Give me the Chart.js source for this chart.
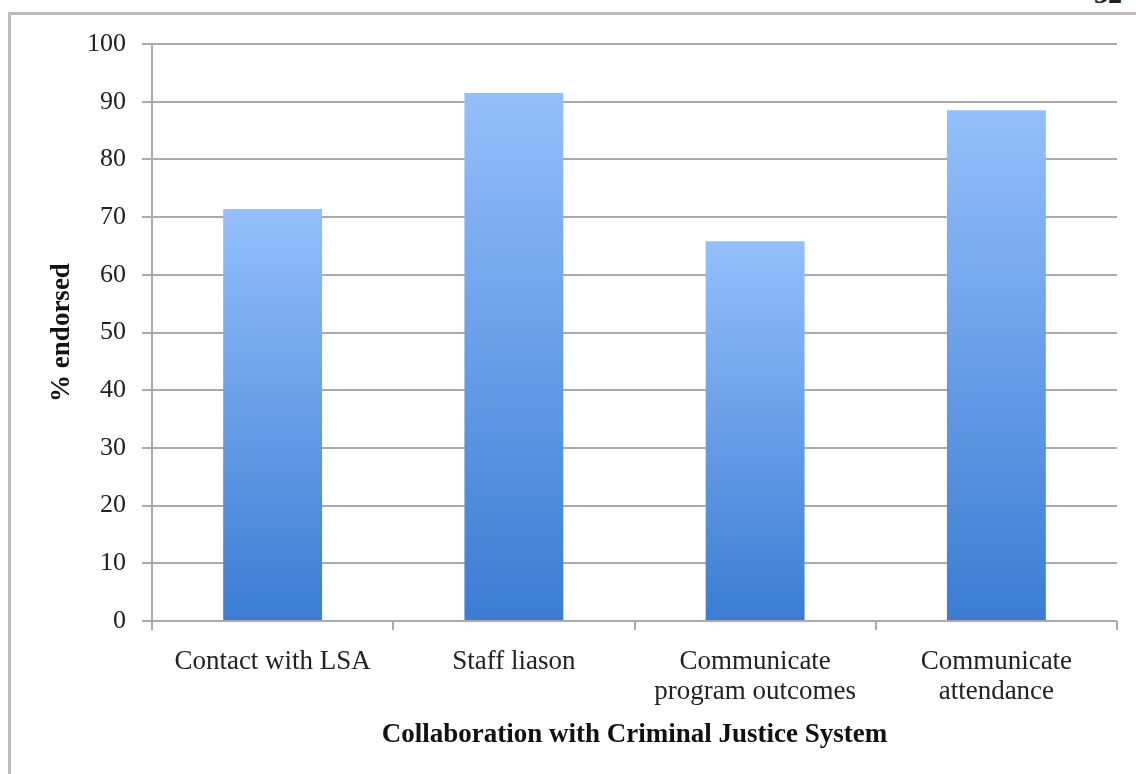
<!DOCTYPE html>
<html lang="en">
<head>
    <meta charset="UTF-8">
    <title>Collaboration with Criminal Justice System</title>
    <script src="https://cdn.jsdelivr.net/npm/chart.js"></script>
    <style>
        html, body {
            margin: 0;
            padding: 0;
            background: #ffffff;
            overflow: hidden;
        }
        .page {
            position: relative;
            width: 1136px;
            height: 774px;
        }
        /* page frame around the figure */
        .frame {
            position: absolute;
            left: 8px;
            top: 12px;
            width: 1140px;
            height: 780px;
            border-top: 3px solid #bdbdbd;
            border-left: 3px solid #bdbdbd;
        }
        .page-num {
            position: absolute;
            left: 1094px;
            top: -22px;
            font: bold 28px "Liberation Serif", serif;
            color: #222;
        }
        #graphique {
            position: absolute;
            left: 0;
            top: 0;
        }
    </style>
</head>
<body>
    <div class="page">
        <div class="frame"></div>
        <div class="page-num">32</div>
        <canvas id="graphique" width="1136" height="774"></canvas>
    </div>

    <script>
        // Données du graphique
        const categories = [
            'Contact with LSA',
            'Staff liason',
            ['Communicate', 'program outcomes'],
            ['Communicate', 'attendance']
        ];
        const pctEndorsed = [71.4, 91.5, 65.8, 88.5];
        const yTicks = [0, 10, 20, 30, 40, 50, 60, 70, 80, 90, 100];

        const gridColor = '#aaaaaa';

        // Dégradé vertical propre à chaque barre (clair en haut, foncé en bas)
        function barGradient(ctx) {
            const chart = ctx.chart;
            if (!chart.chartArea || ctx.type !== 'data') return '#6a9fe6';
            const y = chart.scales.y;
            const top = y.getPixelForValue(ctx.raw);
            const base = y.getPixelForValue(0);
            const g = chart.ctx.createLinearGradient(0, top, 0, base);
            g.addColorStop(0, '#94bffb');
            g.addColorStop(1, '#3b7cd2');
            return g;
        }

        const ctx = document.getElementById('graphique').getContext('2d');
        const myChart = new Chart(ctx, {
            type: 'bar',
            data: {
                labels: categories,
                datasets: [{
                    label: '% endorsed',
                    data: pctEndorsed,
                    backgroundColor: barGradient,
                    borderWidth: 0,
                    barPercentage: 0.41,
                    categoryPercentage: 1
                }]
            },
            options: {
                responsive: false,
                animation: false,
                layout: {
                    padding: { left: 46, top: 44, right: 19, bottom: 23 }
                },
                plugins: {
                    legend: { display: false },
                    tooltip: { enabled: false }
                },
                scales: {
                    x: {
                        offset: true,
                        grid: {
                            offset: true,
                            drawOnChartArea: false,
                            drawTicks: true,
                            tickLength: 9,
                            color: gridColor,
                            lineWidth: 2
                        },
                        border: { display: false },
                        ticks: {
                            color: '#222',
                            padding: 17,
                            maxRotation: 0,
                            autoSkip: false,
                            font: { family: '"Liberation Serif", "Times New Roman", serif', size: 27, lineHeight: 1.1 }
                        },
                        title: {
                            display: true,
                            text: 'Collaboration with Criminal Justice System',
                            color: '#111',
                            padding: 0,
                            font: { family: '"Liberation Serif", "Times New Roman", serif', size: 27, weight: 'bold' }
                        },
                        afterFit: function (scale) { scale.height = 130; }
                    },
                    y: {
                        min: 0,
                        max: 100,
                        afterBuildTicks: function (scale) {
                            scale.ticks = yTicks.map(v => ({ value: v }));
                        },
                        grid: {
                            color: gridColor,
                            lineWidth: 2,
                            tickLength: 10
                        },
                        border: { display: true, color: gridColor, width: 2 },
                        ticks: {
                            color: '#222',
                            padding: 16,
                            font: { family: '"Liberation Serif", "Times New Roman", serif', size: 26 }
                        },
                        title: {
                            display: true,
                            text: '% endorsed',
                            color: '#111',
                            padding: 0,
                            font: { family: '"Liberation Serif", "Times New Roman", serif', size: 27, weight: 'bold' }
                        },
                        afterFit: function (scale) { scale.width = 106; }
                    }
                }
            }
        });
    </script>
</body>
</html>
